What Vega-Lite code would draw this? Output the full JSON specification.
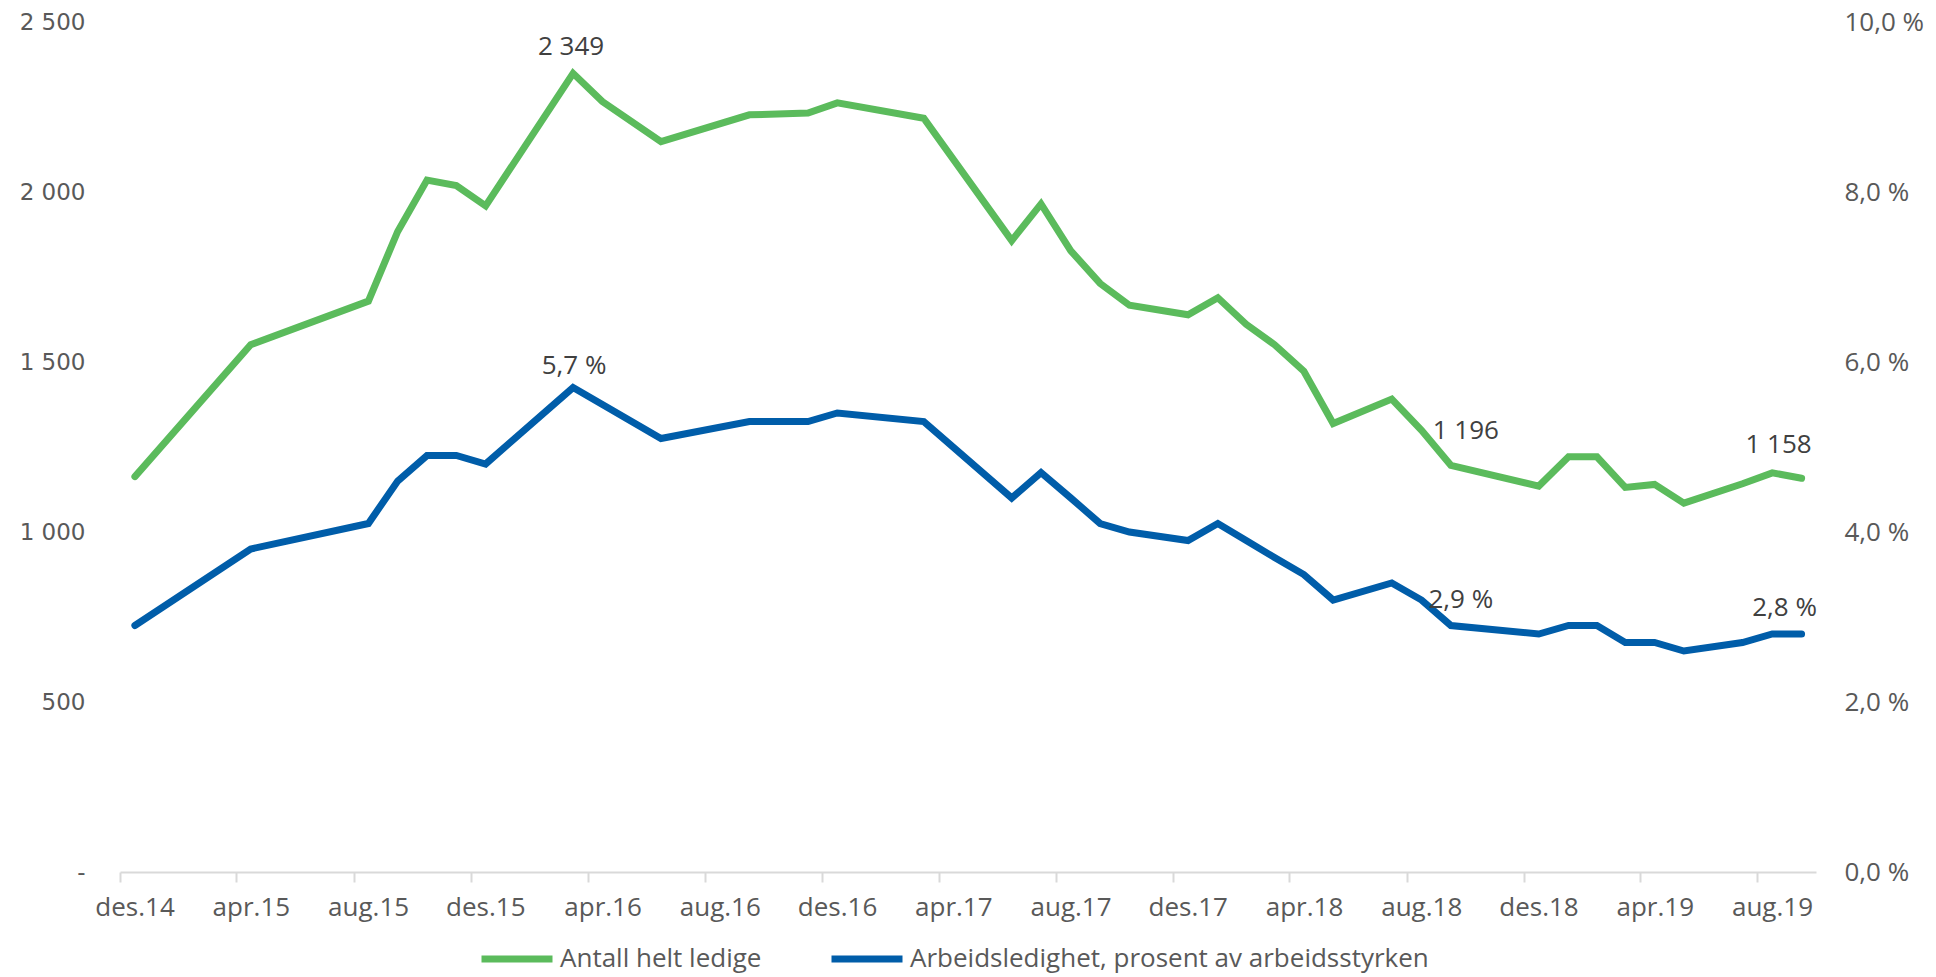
{
  "$schema": "https://vega.github.io/schema/vega-lite/v6.json",
  "width": 1696,
  "height": 850,
  "autosize": {"type": "none"},
  "padding": {"left": 120, "top": 22, "right": 120, "bottom": 105},
  "background": "white",
  "config": {"view": {"stroke": null}, "font": "Open Sans"},
  "data": {"values": [
    {"date": "2014-12", "ledige": 1163, "pct": 2.9},
    {"date": "2015-04", "ledige": 1551, "pct": 3.8},
    {"date": "2015-08", "ledige": 1679, "pct": 4.1},
    {"date": "2015-09", "ledige": 1884, "pct": 4.6},
    {"date": "2015-10", "ledige": 2035, "pct": 4.9},
    {"date": "2015-11", "ledige": 2019, "pct": 4.9},
    {"date": "2015-12", "ledige": 1959, "pct": 4.8},
    {"date": "2016-03", "ledige": 2349, "pct": 5.7, "glab": "2 349", "blab": "5,7 %"},
    {"date": "2016-04", "ledige": 2266, "pct": 5.5},
    {"date": "2016-06", "ledige": 2148, "pct": 5.1},
    {"date": "2016-09", "ledige": 2227, "pct": 5.3},
    {"date": "2016-11", "ledige": 2232, "pct": 5.3},
    {"date": "2016-12", "ledige": 2262, "pct": 5.4},
    {"date": "2017-03", "ledige": 2217, "pct": 5.3},
    {"date": "2017-06", "ledige": 1857, "pct": 4.4},
    {"date": "2017-07", "ledige": 1965, "pct": 4.7},
    {"date": "2017-08", "ledige": 1827, "pct": 4.4},
    {"date": "2017-09", "ledige": 1731, "pct": 4.1},
    {"date": "2017-10", "ledige": 1667, "pct": 4.0},
    {"date": "2017-12", "ledige": 1639, "pct": 3.9},
    {"date": "2018-01", "ledige": 1689, "pct": 4.1},
    {"date": "2018-02", "ledige": 1611, "pct": 3.9},
    {"date": "2018-03", "ledige": 1551, "pct": 3.7},
    {"date": "2018-04", "ledige": 1473, "pct": 3.5},
    {"date": "2018-05", "ledige": 1319, "pct": 3.2},
    {"date": "2018-07", "ledige": 1391, "pct": 3.4},
    {"date": "2018-08", "ledige": 1299, "pct": 3.2},
    {"date": "2018-09", "ledige": 1196, "pct": 2.9, "glab": "1 196", "blab": "2,9 %"},
    {"date": "2018-12", "ledige": 1135, "pct": 2.8},
    {"date": "2019-01", "ledige": 1221, "pct": 2.9},
    {"date": "2019-02", "ledige": 1221, "pct": 2.9},
    {"date": "2019-03", "ledige": 1131, "pct": 2.7},
    {"date": "2019-04", "ledige": 1140, "pct": 2.7},
    {"date": "2019-05", "ledige": 1085, "pct": 2.6},
    {"date": "2019-07", "ledige": 1142, "pct": 2.7},
    {"date": "2019-08", "ledige": 1174, "pct": 2.8},
    {"date": "2019-09", "ledige": 1158, "pct": 2.8, "glab": "1 158", "blab": "2,8 %"}
  ]},
  "encoding": {
    "x": {
      "field": "date", "timeUnit": "utcyearmonth", "type": "temporal", "bandPosition": 0.5,
      "scale": {"domain": [{"year": 2014, "month": 12, "date": 1, "utc": true}, {"year": 2019, "month": 10, "date": 1, "utc": true}]},
      "axis": {
        "title": null,
        "grid": false,
        "values": [
          {"year": 2014, "month": 12, "date": 1, "utc": true},
          {"year": 2015, "month": 4, "date": 1, "utc": true},
          {"year": 2015, "month": 8, "date": 1, "utc": true},
          {"year": 2015, "month": 12, "date": 1, "utc": true},
          {"year": 2016, "month": 4, "date": 1, "utc": true},
          {"year": 2016, "month": 8, "date": 1, "utc": true},
          {"year": 2016, "month": 12, "date": 1, "utc": true},
          {"year": 2017, "month": 4, "date": 1, "utc": true},
          {"year": 2017, "month": 8, "date": 1, "utc": true},
          {"year": 2017, "month": 12, "date": 1, "utc": true},
          {"year": 2018, "month": 4, "date": 1, "utc": true},
          {"year": 2018, "month": 8, "date": 1, "utc": true},
          {"year": 2018, "month": 12, "date": 1, "utc": true},
          {"year": 2019, "month": 4, "date": 1, "utc": true},
          {"year": 2019, "month": 8, "date": 1, "utc": true}
        ],
        "labelExpr": "['jan','feb','mar','apr','mai','jun','jul','aug','sep','okt','nov','des'][utcmonth(datum.value)] + '.' + utcFormat(datum.value, '%y')",
        "domainColor": "#d9d9d9", "domainWidth": 2,
        "tickColor": "#d9d9d9", "tickWidth": 2, "tickSize": 10,
        "labelFont": "Open Sans", "labelFontSize": 26, "labelColor": "#595959",
        "labelPadding": 12, "labelOffset": 14.6, "labelOverlap": false, "labelFlush": false, "labelBound": false
      }
    }
  },
  "layer": [
    {
      "mark": {"type": "line", "strokeWidth": 7, "strokeCap": "round"},
      "encoding": {
        "y": {"field": "ledige", "type": "quantitative",
          "scale": {"domain": [0, 2500], "nice": false},
          "axis": {"orient": "left", "title": null, "values": [0, 500, 1000, 1500, 2000, 2500],
            "labelExpr": "datum.value == 0 ? '-' : replace(format(datum.value, ','), ',', ' ')",
            "domain": false, "ticks": false, "grid": false, "labelPadding": 35,
            "labelFont": "DejaVu Sans", "labelFontSize": 23, "labelColor": "#595959"}},
        "color": {"datum": "Antall helt ledige", "type": "nominal",
          "scale": {"domain": ["Antall helt ledige", "Arbeidsledighet, prosent av arbeidsstyrken"], "range": ["#5BBB5C", "#005DA9"]},
          "legend": {"title": null, "orient": "none", "legendX": 358, "legendY": 898, "direction": "horizontal", "columns": 2,
            "symbolType": "stroke", "symbolSize": 5041, "symbolStrokeWidth": 7,
            "labelFont": "Open Sans", "labelFontSize": 26, "labelColor": "#595959", "labelLimit": 800,
            "columnPadding": 55, "labelOffset": 4, "padding": 0}}
      }
    },
    {
      "mark": {"type": "line", "strokeWidth": 7, "strokeCap": "round"},
      "encoding": {
        "y": {"field": "pct", "type": "quantitative",
          "scale": {"domain": [0, 10], "nice": false},
          "axis": {"orient": "right", "title": null, "values": [0, 2, 4, 6, 8, 10],
            "labelExpr": "replace(format(datum.value, '.1f'), '.', ',') + ' %'",
            "domain": false, "ticks": false, "grid": false, "labelPadding": 28,
            "labelFont": "Open Sans", "labelFontSize": 26, "labelColor": "#595959"}},
        "color": {"datum": "Arbeidsledighet, prosent av arbeidsstyrken", "type": "nominal"}
      }
    },
    {
      "transform": [{"filter": "datum.glab == '2 349'"}],
      "mark": {"type": "text", "font": "Open Sans", "fontSize": 26, "color": "#404040", "baseline": "middle", "dx": -2, "dy": -26},
      "encoding": {"y": {"field": "ledige", "type": "quantitative", "scale": {"domain": [0, 2500], "nice": false}, "axis": null}, "text": {"field": "glab"}}
    },
    {
      "transform": [{"filter": "datum.glab == '1 196'"}],
      "mark": {"type": "text", "font": "Open Sans", "fontSize": 26, "color": "#404040", "baseline": "middle", "dx": 15, "dy": -34},
      "encoding": {"y": {"field": "ledige", "type": "quantitative", "scale": {"domain": [0, 2500], "nice": false}, "axis": null}, "text": {"field": "glab"}}
    },
    {
      "transform": [{"filter": "datum.glab == '1 158'"}],
      "mark": {"type": "text", "font": "Open Sans", "fontSize": 26, "color": "#404040", "baseline": "middle", "dx": -23, "dy": -33},
      "encoding": {"y": {"field": "ledige", "type": "quantitative", "scale": {"domain": [0, 2500], "nice": false}, "axis": null}, "text": {"field": "glab"}}
    },
    {
      "transform": [{"filter": "datum.blab == '5,7 %'"}],
      "mark": {"type": "text", "font": "Open Sans", "fontSize": 26, "color": "#404040", "baseline": "middle", "dx": 1, "dy": -22},
      "encoding": {"y": {"field": "pct", "type": "quantitative", "scale": {"domain": [0, 10], "nice": false}, "axis": null}, "text": {"field": "blab"}}
    },
    {
      "transform": [{"filter": "datum.blab == '2,9 %'"}],
      "mark": {"type": "text", "font": "Open Sans", "fontSize": 26, "color": "#404040", "baseline": "middle", "dx": 10, "dy": -26},
      "encoding": {"y": {"field": "pct", "type": "quantitative", "scale": {"domain": [0, 10], "nice": false}, "axis": null}, "text": {"field": "blab"}}
    },
    {
      "transform": [{"filter": "datum.blab == '2,8 %'"}],
      "mark": {"type": "text", "font": "Open Sans", "fontSize": 26, "color": "#404040", "baseline": "middle", "dx": -17, "dy": -26},
      "encoding": {"y": {"field": "pct", "type": "quantitative", "scale": {"domain": [0, 10], "nice": false}, "axis": null}, "text": {"field": "blab"}}
    }
  ],
  "resolve": {"scale": {"y": "independent"}}
}
